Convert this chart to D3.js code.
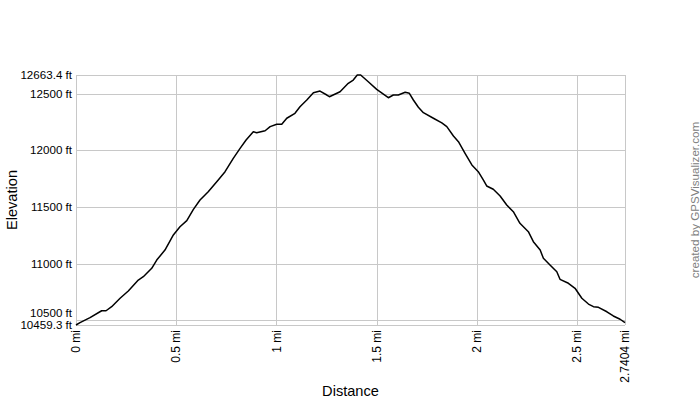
<!DOCTYPE html>
<html>
<head>
<meta charset="utf-8">
<script src="https://cdn.jsdelivr.net/npm/d3@7"></script>
<style>
  body { margin: 0; background: #fff; }
  svg { display: block; font-family: "Liberation Sans", Arial, sans-serif; }
</style>
</head>
<body>
<script>
// distance along the track (mi) and elevation (ft)
const distance = [0, 0.020, 0.070, 0.128, 0.150, 0.178, 0.220, 0.261, 0.311, 0.336,
  0.378, 0.403, 0.444, 0.486, 0.519, 0.553, 0.586, 0.619, 0.644, 0.660,
  0.710, 0.744, 0.785, 0.819, 0.849, 0.885, 0.902, 0.944, 0.969, 1.002,
  1.027, 1.052, 1.093, 1.118, 1.152, 1.185, 1.218, 1.252, 1.265, 1.318,
  1.359, 1.384, 1.404, 1.421, 1.459, 1.501, 1.559, 1.584, 1.609, 1.643,
  1.664, 1.684, 1.709, 1.734, 1.784, 1.826, 1.851, 1.884, 1.909, 1.942,
  1.976, 2.008, 2.033, 2.050, 2.083, 2.117, 2.150, 2.183, 2.216, 2.258,
  2.283, 2.317, 2.333, 2.366, 2.400, 2.416, 2.458, 2.491, 2.525, 2.558,
  2.583, 2.608, 2.650, 2.682, 2.716, 2.7404];

const elevation = [10459.3, 10480, 10524, 10585, 10585, 10621, 10695, 10759, 10856, 10885,
  10959, 11032, 11120, 11253, 11326, 11379, 11479, 11561, 11605, 11634,
  11738, 11811, 11929, 12017, 12090, 12163, 12155, 12172, 12208, 12229,
  12229, 12282, 12326, 12384, 12443, 12507, 12522, 12487, 12472, 12516,
  12590, 12619, 12663, 12663.4, 12604, 12537, 12463, 12487, 12487, 12511,
  12502, 12443, 12379, 12331, 12282, 12242, 12208, 12126, 12075, 11973,
  11870, 11811, 11738, 11685, 11656, 11597, 11517, 11458, 11356, 11282,
  11194, 11120, 11047, 10988, 10929, 10862, 10827, 10783, 10695, 10644,
  10621, 10615, 10576, 10539, 10510, 10480];

const xTicks = [0, 0.5, 1, 1.5, 2, 2.5, 2.7404];
const yTicks = [10459.3, 10500, 11000, 11500, 12000, 12500, 12663.4];

const width = 700, height = 400;
const margin = {top: 75, right: 75, bottom: 75, left: 76};

const data = distance.map((d, i) => ({mi: d, ft: elevation[i]}));

const x = d3.scaleLinear()
  .domain([0, 2.7404])
  .range([margin.left, width - margin.right]);

const y = d3.scaleLinear()
  .domain([10459.3, 12663.4])
  .range([height - margin.bottom, margin.top]);

const svg = d3.select("body").append("svg")
  .attr("width", width)
  .attr("height", height);

// grid (includes the plot frame at the domain ends)
svg.append("g")
    .attr("stroke", "#c8c8c8")
    .attr("stroke-width", 1)
  .selectAll("line.v")
  .data(xTicks)
  .enter().append("line")
    .attr("x1", d => Math.round(x(d)) + 0.5)
    .attr("x2", d => Math.round(x(d)) + 0.5)
    .attr("y1", margin.top)
    .attr("y2", height - margin.bottom);

svg.append("g")
    .attr("stroke", "#c8c8c8")
    .attr("stroke-width", 1)
  .selectAll("line.h")
  .data(yTicks)
  .enter().append("line")
    .attr("x1", margin.left)
    .attr("x2", width - margin.right)
    .attr("y1", d => Math.round(y(d)) + 0.5)
    .attr("y2", d => Math.round(y(d)) + 0.5);

// y tick labels; a round tick sitting close to the bottom end gets nudged up
const yMin = y.domain()[0];
svg.append("g")
    .attr("text-anchor", "end")
    .attr("fill", "#000")
    .style("font-size", "11.6px")
  .selectAll("text")
  .data(yTicks)
  .enter().append("text")
    .attr("x", margin.left - 4)
    .attr("y", d => {
      let gap = y(yMin) - y(d);
      return (d !== yMin && gap > 0 && gap < 12) ? y(yMin) - 12 : y(d);
    })
    .attr("dy", "0.35em")
    .text(d => d + " ft");

// x tick labels, rotated
svg.append("g")
    .attr("text-anchor", "end")
    .attr("fill", "#000")
    .style("font-size", "12px")
  .selectAll("text")
  .data(xTicks)
  .enter().append("text")
    .attr("transform", d => `translate(${x(d)},${height - margin.bottom + 5}) rotate(-90)`)
    .attr("dy", "0.35em")
    .text(d => d + " mi");

// profile
const line = d3.line()
  .x(d => x(d.mi))
  .y(d => y(d.ft));

svg.append("path")
  .datum(data)
  .attr("fill", "none")
  .attr("stroke", "#000")
  .attr("stroke-width", 1.5)
  .attr("stroke-linejoin", "round")
  .attr("d", line);

// axis titles
svg.append("text")
  .attr("x", (margin.left + width - margin.right) / 2)
  .attr("y", 396)
  .attr("text-anchor", "middle")
  .style("font-size", "14.6px")
  .text("Distance");

svg.append("text")
  .attr("transform", `translate(17,${(margin.top + height - margin.bottom) / 2}) rotate(-90)`)
  .attr("text-anchor", "middle")
  .style("font-size", "14.6px")
  .text("Elevation");

// credit
svg.append("text")
  .attr("transform", `translate(699,${(margin.top + height - margin.bottom) / 2}) rotate(-90)`)
  .attr("text-anchor", "middle")
  .attr("fill", "#808080")
  .style("font-size", "11.6px")
  .text("created by GPSVisualizer.com");
</script>
</body>
</html>
